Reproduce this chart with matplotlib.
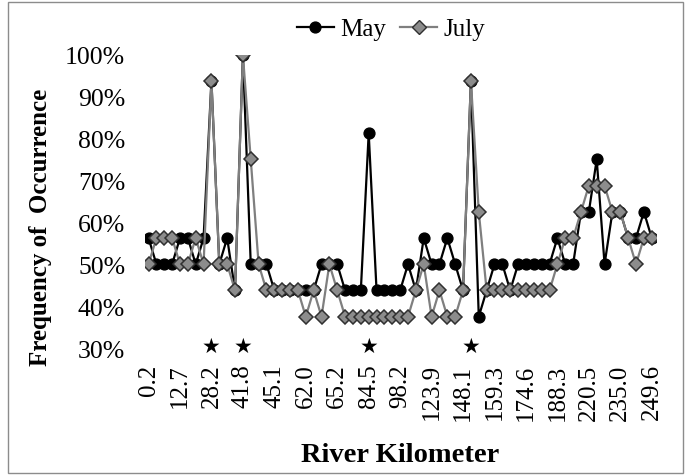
import numpy as np
import matplotlib.pyplot as plt
from matplotlib.lines import Line2D
from matplotlib.patches import Rectangle

# tick labels (river km), one shown every 4th site
km_labels = ["0.2", "12.7", "28.2", "41.8", "45.1", "62.0", "65.2", "84.5", "98.2",
             "123.9", "148.1", "159.3", "174.6", "188.3", "220.5", "235.0", "249.6"]

may = [56.25, 50, 50, 50, 56.25, 56.25, 50, 56.25, 93.75, 50,
       56.25, 43.75, 100, 50, 50, 50, 43.75, 43.75, 43.75, 43.75,
       43.75, 43.75, 50, 50, 50, 43.75, 43.75, 43.75, 81.25, 43.75,
       43.75, 43.75, 43.75, 50, 43.75, 56.25, 50, 50, 56.25, 50,
       43.75, 93.75, 37.5, 43.75, 50, 50, 43.75, 50, 50, 50,
       50, 50, 56.25, 50, 50, 62.5, 62.5, 75, 50, 62.5,
       62.5, 56.25, 56.25, 62.5, 56.25]

july = [50, 56.25, 56.25, 56.25, 50, 50, 56.25, 50, 93.75, 50,
        50, 43.75, 100, 75, 50, 43.75, 43.75, 43.75, 43.75, 43.75,
        37.5, 43.75, 37.5, 50, 43.75, 37.5, 37.5, 37.5, 37.5, 37.5,
        37.5, 37.5, 37.5, 37.5, 43.75, 50, 37.5, 43.75, 37.5, 37.5,
        43.75, 93.75, 62.5, 43.75, 43.75, 43.75, 43.75, 43.75, 43.75, 43.75,
        43.75, 43.75, 50, 56.25, 56.25, 62.5, 68.75, 68.75, 68.75, 62.5,
        62.5, 56.25, 50, 56.25, 56.25]

# sites marked with a star
star_sites = [8, 12, 28, 41]

plt.rcParams['font.family'] = ['Liberation Serif', 'DejaVu Serif']

fig = plt.figure(figsize=(6.86, 4.77), dpi=100)
ax = fig.add_axes([0.2108, 0.2683, 0.745, 0.6149])

x = np.arange(len(may))
ax.plot(x, may, color='black', lw=1.6, marker='o', ms=7.8,
        mfc='black', mec='black', zorder=3)
ax.plot(x, july, color='#7f7f7f', lw=1.6, marker='D', ms=7,
        mfc='#8c8c8c', mec='#303030', mew=1.1, zorder=4)

for s in star_sites:
    ax.text(s, 30.4, "\u2605", family='DejaVu Sans', fontsize=15,
            ha='center', va='center', clip_on=False)

ax.set_xlim(-0.5, len(may) - 0.5)
ax.set_ylim(30, 100)
ax.set_yticks(np.arange(30, 101, 10))
ax.set_yticklabels([f"{v}%" for v in range(30, 101, 10)])
ax.set_xticks(np.arange(0, len(may), 4))
ax.set_xticklabels(km_labels, rotation=90)
ax.tick_params(axis='y', length=0, labelsize=18.5, pad=14)
ax.tick_params(axis='x', length=0, labelsize=18, pad=11)
for sp in ax.spines.values():
    sp.set_visible(False)

ax.set_ylabel("Frequency of  Occurrence", fontsize=18, fontweight='bold')
ax.yaxis.set_label_coords(-0.181, 0.416)
ax.set_xlabel("River Kilometer", fontsize=20.5, fontweight='bold', labelpad=16)

handles = [Line2D([], [], color='black', lw=1.6, marker='o', ms=7.8),
           Line2D([], [], color='#7f7f7f', lw=1.6, marker='D', ms=7,
                  mfc='#8c8c8c', mec='#303030')]
fig.legend(handles, ["May", "July"], loc='center', bbox_to_anchor=(0.57, 0.937),
           ncol=2, frameon=False, fontsize=18, handlelength=1.5,
           handletextpad=0.25, columnspacing=0.55)

fig.add_artist(Rectangle((8 / 686, 3 / 477), 675 / 686, 471 / 477,
                         transform=fig.transFigure, fill=False,
                         edgecolor='#8c8c8c', lw=1))

fig.savefig("out.png", dpi=100)
